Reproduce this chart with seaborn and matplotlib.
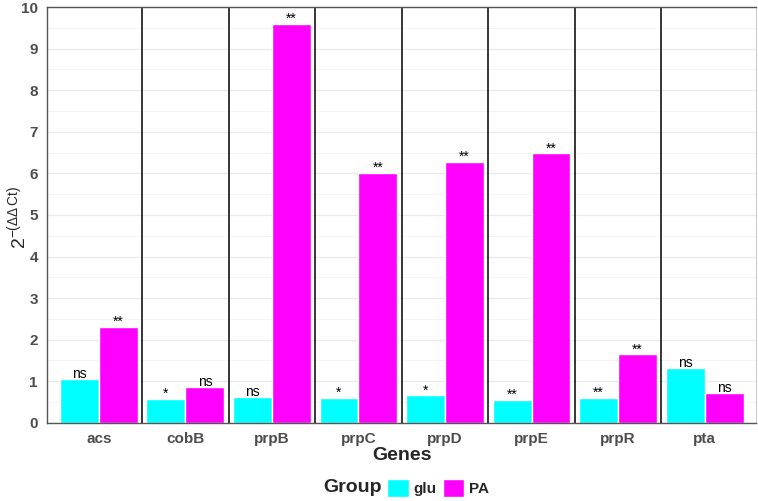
import pandas as pd
import numpy as np
import matplotlib.pyplot as plt
import seaborn as sns
from matplotlib.patches import Patch

genes = ['acs', 'cobB', 'prpB', 'prpC', 'prpD', 'prpE', 'prpR', 'pta']
glu = [1.06, 0.58, 0.63, 0.60, 0.66, 0.55, 0.60, 1.32]
pa = [2.31, 0.87, 9.60, 6.01, 6.28, 6.48, 1.65, 0.72]
glu_sig = ['ns', '*', 'ns', '*', '*', '**', '**', 'ns']
pa_sig = ['**', 'ns', '**', '**', '**', '**', '**', 'ns']

df = pd.DataFrame({
    'Genes': genes * 2,
    'value': glu + pa,
    'Group': ['glu'] * len(genes) + ['PA'] * len(genes),
})

sns.set_style('white')
plt.rcParams['font.family'] = ['Liberation Sans', 'DejaVu Sans']
plt.rcParams['mathtext.fontset'] = 'custom'
plt.rcParams['mathtext.rm'] = 'Liberation Sans'
plt.rcParams['mathtext.it'] = 'Liberation Sans'

fig = plt.figure(figsize=(7.58, 5.01), dpi=100)
ax = fig.add_axes([0.062, 0.156, 0.936, 0.830])

ax.set_axisbelow(True)
ax.set_yticks(np.arange(0, 10.5, 0.5), minor=True)
ax.grid(True, which='major', color='#EBEBEB', linewidth=1.0)
ax.grid(True, which='minor', axis='y', color='#F2F2F2', linewidth=0.6)

sns.barplot(data=df, x='Genes', y='value', hue='Group',
            palette={'glu': '#00FFFF', 'PA': '#FF00FF'},
            width=0.9, gap=0, saturation=1, errorbar=None, ax=ax,
            legend=False)

# significance labels above each bar
for i, g in enumerate(genes):
    ax.text(i - 0.225, glu[i] - 0.05, glu_sig[i], ha='center', va='bottom',
            fontsize=10, color='black')
    ax.text(i + 0.225, pa[i] - 0.05, pa_sig[i], ha='center', va='bottom',
            fontsize=10, color='black')

for b in np.arange(0.5, len(genes) - 1, 1):
    ax.axvline(b, color='black', linewidth=1.1)

ax.set_xlim(-0.6, len(genes) - 0.4)
ax.set_ylim(0, 10)
ax.set_yticks(range(0, 11))

for side in ['left', 'bottom', 'top']:
    ax.spines[side].set_color('#555555')
    ax.spines[side].set_linewidth(1.0)
ax.spines['right'].set_color('#CCCCCC')
ax.tick_params(axis='both', which='major', length=3, color='#555555',
               labelcolor='#4D4D4D', labelsize=11)
ax.tick_params(axis='both', which='minor', length=0)
for lbl in ax.get_xticklabels() + ax.get_yticklabels():
    lbl.set_fontweight('bold')

ax.set_xlabel('Genes', fontsize=14, fontweight='bold', labelpad=1)
ax.set_ylabel('')
fig.text(0.022, 0.565, r'$2^{-(\Delta\Delta\,\mathrm{Ct})}$', rotation=90,
         fontsize=14, ha='center', va='center')

# legend: title on the left, entries in a row
fig.text(0.503, 0.026, 'Group', fontsize=14, fontweight='bold',
         ha='right', va='center')
handles = [Patch(facecolor='#00FFFF', label='glu'),
           Patch(facecolor='#FF00FF', label='PA')]
fig.legend(handles=handles, ncol=2, loc='center left',
           bbox_to_anchor=(0.511, 0.026), frameon=False,
           handlelength=1.4, handleheight=1.4, handletextpad=0.3,
           columnspacing=0.4, borderpad=0, borderaxespad=0,
           prop={'weight': 'bold', 'size': 11})

fig.savefig('out.png', dpi=100)
